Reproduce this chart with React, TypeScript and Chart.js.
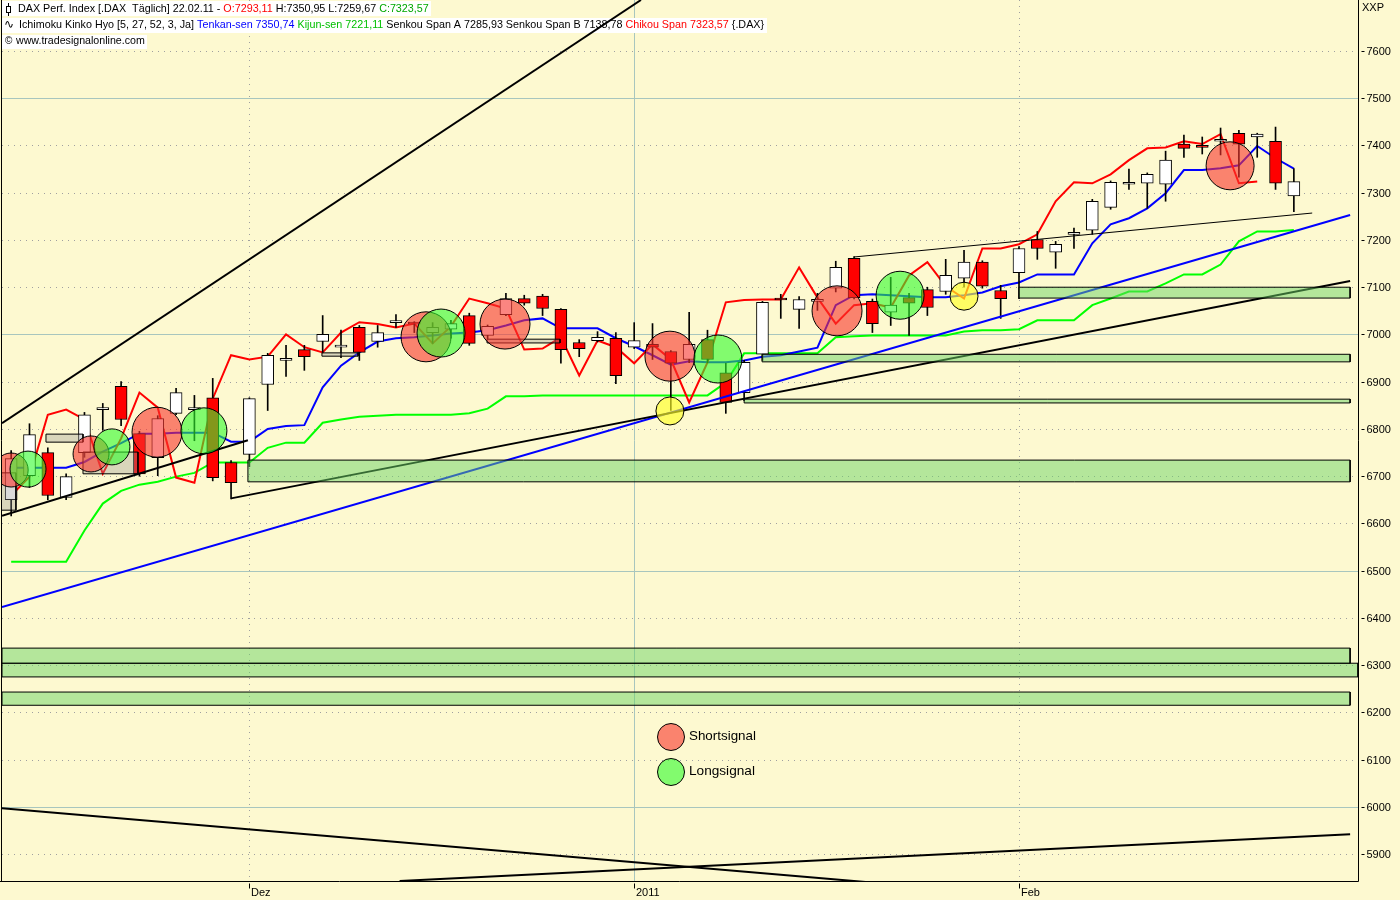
import React, { useEffect, useRef } from 'react';
import { Chart, registerables } from 'chart.js';

Chart.register(...registerables);

// ---------- data ----------
const opens = [6650, 6701, 6750, 6655, 6750, 6841, 6890, 6790, 6739, 6833, 6841, 6866, 6729, 6746, 6894, 6945, 6968, 6985, 6973, 7015, 6985, 7025, 7025, 7004, 7011, 7040, 6998, 7042, 7076, 7081, 7053, 6983, 6987, 6992, 6973, 6979, 6964, 6947, 6989, 6919, 6877, 6958, 7074, 7053, 7070, 7098, 7161, 7070, 7047, 7078, 7095, 7091, 7119, 7153, 7093, 7131, 7201, 7174, 7212, 7221, 7269, 7318, 7320, 7318, 7403, 7397, 7409, 7426, 7418, 7409, 7293.11];
const highs = [6754, 6811, 6760, 6705, 6835, 6854, 6900, 6795, 6828, 6886, 6871, 6907, 6733, 6866, 6960, 6977, 6977, 7040, 7009, 7019, 7019, 7042, 7027, 7025, 7030, 7045, 7020, 7087, 7083, 7085, 7055, 6989, 7006, 7004, 7025, 7023, 6966, 7047, 7009, 6939, 6945, 7070, 7085, 7080, 7087, 7155, 7165, 7075, 7121, 7087, 7100, 7159, 7178, 7156, 7104, 7186, 7218, 7197, 7225, 7286, 7325, 7350, 7342, 7388, 7422, 7418, 7437, 7432, 7426, 7439, 7350.95];
const lows = [6616, 6676, 6650, 6650, 6740, 6797, 6807, 6700, 6701, 6830, 6775, 6690, 6652, 6720, 6839, 6911, 6924, 6962, 6951, 6945, 6973, 7015, 7004, 6981, 6992, 6977, 6990, 7040, 7062, 7040, 6939, 6953, 6984, 6896, 6970, 6947, 6839, 6940, 6940, 6833, 6860, 6945, 7034, 7013, 7051, 7090, 7075, 7004, 7019, 6998, 7040, 7085, 7100, 7098, 7034, 7076, 7159, 7140, 7182, 7212, 7265, 7307, 7267, 7282, 7375, 7382, 7380, 7333, 7375, 7307, 7259.67];
const closes = [6737, 6788, 6659, 6699, 6830, 6841, 6820, 6705, 6822, 6877, 6845, 6697, 6686, 6864, 6956, 6947, 6953, 7000, 6973, 6962, 7004, 7026, 7022, 7015, 7023, 6981, 7017, 7076, 7066, 7055, 6968, 6970, 6994, 6913, 6987, 6973, 6939, 6979, 6947, 6856, 6941, 7068, 7073, 7074, 7074, 7142, 7078, 7023, 7062, 7066, 7057, 7125, 7153, 7102, 7076, 7182, 7182, 7191, 7212, 7282, 7322, 7320, 7339, 7369, 7394, 7396, 7409, 7403, 7424, 7320, 7323.57];

const tenkan = [6718, 6718, 6718, 6718, 6730, 6752, 6770, 6790, 6790, 6792, 6792, 6792, 6773, 6773, 6800, 6806, 6808, 6888, 6934, 6962, 6985, 6992, 6994, 6998, 7002, 7004, 7009, 7019, 7030, 7034, 7013, 7013, 7013, 6992, 6975, 6956, 6936, 6943, 6941, 6941, 6945, 6953, 6956, 6964, 6972, 7062, 7083, 7085, 7083, 7081, 7079, 7079, 7083, 7089, 7102, 7110, 7127, 7127, 7127, 7193, 7233, 7246, 7267, 7299, 7348, 7348, 7352, 7358, 7399, 7373, 7351];
const kijun = [6519, 6519, 6519, 6519, 6585, 6642, 6669, 6682, 6688, 6699, 6707, 6729, 6729, 6729, 6760, 6771, 6771, 6813, 6820, 6826, 6828, 6830, 6830, 6830, 6830, 6833, 6843, 6869, 6869, 6871, 6871, 6871, 6871, 6871, 6871, 6871, 6871, 6871, 6871, 6898, 6960, 6960, 6960, 6960, 6960, 6994, 6996, 6998, 6998, 6998, 6998, 6998, 7006, 7009, 7009, 7011, 7030, 7030, 7030, 7062, 7076, 7091, 7091, 7108, 7127, 7127, 7148, 7197, 7218, 7218, 7221];
const chikou = [6659, 6699, 6830, 6841, 6820, 6705, 6780, 6877, 6845, 6697, 6686, 6864, 6956, 6947, 6953, 7000, 6973, 6962, 7004, 7026, 7022, 7015, 7023, 6981, 7017, 7076, 7066, 7055, 6968, 6970, 6994, 6913, 6987, 6973, 6939, 6979, 6947, 6856, 6941, 7068, 7073, 7074, 7074, 7142, 7078, 7023, 7062, 7066, 7057, 7125, 7153, 7102, 7076, 7182, 7182, 7191, 7212, 7282, 7322, 7320, 7339, 7369, 7394, 7396, 7409, 7403, 7424, 7320, 7324];

const yTicks = [5900, 6000, 6100, 6200, 6300, 6400, 6500, 6600, 6700, 6800, 6900, 7000, 7100, 7200, 7300, 7400, 7500, 7600];
const solidGridValues = [6000, 6500, 7000, 7500];
const xTickIdx = [13, 34, 55];
const xTickLabels = ['Dez', '2011', 'Feb'];
const xTickSolid = [false, true, false];

// trend lines: [[x, y], [x, y]] (x = bar index)
const upperTrend = [[-0.5, 6812], [34.37, 7708]];
const lowerLeftTrend = [[-0.5, 6616], [12.92, 6776]];
const supportTrend = [[12.0, 6653], [73.07, 7113]];
const blueTrend = [[-0.5, 6423], [73.07, 7253]];
const thinTrend = [[46.0, 7164], [71.0, 7257]];
const bottomFallTrend = [[-0.5, 5997], [46.9, 5840]];
const bottomRiseTrend = [[21.2, 5843], [73.07, 5942]];

// zones: [xStart, xEnd, low, high]
const greenZones = [
  [55.0, 73.07, 7077, 7100],
  [40.98, 73.07, 6942, 6958],
  [40.0, 73.07, 6855, 6863],
  [12.92, 73.07, 6688, 6734],
  [-0.5, 73.07, 6304, 6336],
  [-0.5, 73.5, 6275, 6304],
  [-0.5, 73.07, 6215, 6243],
];
const grayBoxes = [
  [-0.6, 0.26, 6628, 6707],
  [1.9, 3.92, 6772, 6789],
  [3.92, 6.92, 6705, 6751],
  [16.96, 18.93, 6954, 6961],
  [25.97, 29.95, 6982, 6990],
];

// signals: [x, y]
const shortSignals = [[0, 6713], [4.36, 6747], [7.96, 6793], [22.64, 6995], [26.95, 7022], [35.95, 6954], [45.07, 7050], [66.52, 7357]];
const longSignals = [[0.92, 6715], [5.5, 6762], [10.52, 6796], [23.46, 7003], [38.57, 6948], [48.51, 7083]];
const neutralSignals = [[35.95, 6838], [52.0, 7081]];

// ---------- styles ----------
const BG = '#fdf9d0';
const GRID_SOLID = '#a8c6be';
const GRID_DOT = '#a0a0a0';
const RED_FILL = 'rgba(249,51,45,0.6)';
const GREEN_FILL = 'rgba(49,251,45,0.6)';
const YELLOW_FILL = 'rgba(255,255,40,0.65)';
const ZONE_FILL = 'rgba(108,212,102,0.5)';
const GRAY_FILL = 'rgba(150,150,150,0.35)';
const shortRadii = [17, 18, 25, 25, 25, 25, 25, 24];
const longRadii = [18, 18, 23, 24, 24, 24];
const neutralRadii = [14, 14];
const FONT = "'Liberation Sans', Arial, sans-serif";

const pts = (arr: number[][]) => arr.map(([x, y]) => ({ x, y }));
const rectPts = (r: number[]) => [
  { x: r[0], y: r[2] }, { x: r[0], y: r[3] }, { x: r[1], y: r[3] }, { x: r[1], y: r[2] }, { x: r[0], y: r[2] },
];

const header1 = [
  ['DAX Perf. Index [.DAX  Täglich] 22.02.11 - ', '#000000'],
  ['O:7293,11', '#ff0000'],
  [' H:7350,95 L:7259,67 ', '#000000'],
  ['C:7323,57', '#00a800'],
];
const header2 = [
  ['Ichimoku Kinko Hyo [5, 27, 52, 3, Ja] ', '#000000'],
  ['Tenkan-sen 7350,74', '#0000ff'],
  [' ', '#000000'],
  ['Kijun-sen 7221,11', '#00c000'],
  [' Senkou Span A 7285,93 Senkou Span B 7138,78 ', '#000000'],
  ['Chikou Span 7323,57', '#ff0000'],
  [' {.DAX}', '#000000'],
];
const header3 = [['www.tradesignalonline.com', '#000000']];

function drawSegs(ctx: any, segs: string[][], x: number, y: number, targetW: number) {
  ctx.font = `12px ${FONT}`;
  const w = segs.reduce((a, s) => a + ctx.measureText(s[0]).width, 0);
  const size = (12 * targetW) / w;
  ctx.font = `${size}px ${FONT}`;
  ctx.textBaseline = 'middle';
  ctx.textAlign = 'left';
  let cx = x;
  for (const [t, c] of segs) {
    ctx.fillStyle = c;
    ctx.fillText(t, cx, y);
    cx += ctx.measureText(t).width;
  }
}

function fitText(ctx: any, t: string, x: number, y: number, targetW: number) {
  ctx.font = `12px ${FONT}`;
  const size = (12 * targetW) / ctx.measureText(t).width;
  ctx.font = `${size}px ${FONT}`;
  ctx.textBaseline = 'middle';
  ctx.textAlign = 'left';
  ctx.fillStyle = '#000';
  ctx.fillText(t, x, y);
}

const chromePlugin = {
  id: 'chrome',
  beforeDraw(chart: any) {
    const { ctx, width, height } = chart;
    ctx.save();
    ctx.fillStyle = BG;
    ctx.fillRect(0, 0, width, height);
    ctx.restore();
  },
  beforeDatasetsDraw(chart: any) {
    const { ctx, chartArea: a, scales } = chart;
    const { x, y } = scales;
    ctx.save();
    ctx.lineWidth = 1;
    for (const v of yTicks) {
      const py = Math.round(y.getPixelForValue(v)) + 0.5;
      const solid = solidGridValues.includes(v);
      ctx.strokeStyle = solid ? GRID_SOLID : GRID_DOT;
      ctx.setLineDash(solid ? [] : [1, 5]);
      ctx.beginPath();
      ctx.moveTo(a.left, py);
      ctx.lineTo(a.right, py);
      ctx.stroke();
    }
    xTickIdx.forEach((v, i) => {
      const px = Math.round(x.getPixelForValue(v)) + 0.5;
      const solid = xTickSolid[i];
      ctx.strokeStyle = solid ? GRID_SOLID : GRID_DOT;
      ctx.setLineDash(solid ? [] : [1, 5]);
      ctx.beginPath();
      ctx.moveTo(px, a.top);
      ctx.lineTo(px, a.bottom);
      ctx.stroke();
    });
    // header backgrounds (under the drawings)
    ctx.fillStyle = '#ffffff';
    ctx.fillRect(2, 1, 429, 15);
    ctx.fillRect(2, 18, 765, 15);
    ctx.fillRect(2, 35, 145, 14);
    ctx.restore();
  },
  afterDraw(chart: any) {
    const { ctx, chartArea: a, scales } = chart;
    const { x, y } = scales;
    ctx.save();
    ctx.strokeStyle = '#000';
    ctx.lineWidth = 1;
    ctx.setLineDash([]);
    // frame: left, right axis, bottom axis
    const rx = Math.round(a.right) + 0.5;
    const by = Math.round(a.bottom) + 0.5;
    ctx.beginPath();
    ctx.moveTo(1.5, 0);
    ctx.lineTo(1.5, by);
    ctx.moveTo(rx, 0);
    ctx.lineTo(rx, by);
    ctx.moveTo(0, by);
    ctx.lineTo(rx, by);
    ctx.stroke();

    // y axis ticks + labels
    ctx.font = `11px ${FONT}`;
    ctx.fillStyle = '#000';
    ctx.textBaseline = 'middle';
    ctx.textAlign = 'left';
    for (const v of yTicks) {
      const py = Math.round(y.getPixelForValue(v)) + 0.5;
      ctx.beginPath();
      ctx.moveTo(rx + 3, py);
      ctx.lineTo(rx + 6, py);
      ctx.stroke();
      ctx.fillText(String(v), rx + 8, py);
    }
    // x axis ticks + labels
    ctx.textBaseline = 'top';
    xTickIdx.forEach((v, i) => {
      const px = Math.round(x.getPixelForValue(v)) + 0.5;
      ctx.beginPath();
      ctx.moveTo(px, by + 2);
      ctx.lineTo(px, by + 7);
      ctx.stroke();
      ctx.fillText(xTickLabels[i], px + 1.5, by + 6);
    });

    // candle icon
    ctx.strokeStyle = '#000';
    ctx.beginPath();
    ctx.moveTo(8.5, 3);
    ctx.lineTo(8.5, 16);
    ctx.stroke();
    ctx.fillStyle = '#fff';
    ctx.fillRect(6, 6, 5, 7);
    ctx.strokeRect(6.5, 6.5, 4, 6);

    drawSegs(ctx, header1, 18, 9, 411);
    ctx.font = `12px 'DejaVu Sans', sans-serif`;
    ctx.fillStyle = '#000';
    ctx.textBaseline = 'middle';
    ctx.fillText('∿', 4, 25);
    drawSegs(ctx, header2, 19, 25, 746);
    ctx.font = `10px ${FONT}`;
    ctx.fillStyle = '#000';
    ctx.fillText('©', 5, 41);
    drawSegs(ctx, header3, 16, 41, 129);

    // axis unit
    ctx.font = `11px ${FONT}`;
    ctx.fillStyle = '#000';
    ctx.textBaseline = 'middle';
    ctx.fillText('XXP', 1362, 8);

    // signal legend
    const leg = [
      [RED_FILL, 'Shortsignal', 737, 67],
      [GREEN_FILL, 'Longsignal', 772, 66],
    ];
    for (const [fill, label, cy, tw] of leg as any[]) {
      ctx.beginPath();
      ctx.arc(671, cy, 13.5, 0, Math.PI * 2);
      ctx.fillStyle = fill;
      ctx.fill();
      ctx.strokeStyle = '#000';
      ctx.stroke();
      fitText(ctx, label, 689, cy - 1, tw);
    }
    ctx.restore();
  },
};

export default function App() {
  const ref = useRef<HTMLCanvasElement>(null);

  useEffect(() => {
    document.body.style.margin = '0';
    Chart.defaults.font.family = FONT;
    Chart.defaults.font.size = 11;
    Chart.defaults.color = '#000';

    const idx = closes.map((_, i) => i);
    const bodies = idx.map((i) => ({ x: i, y: [opens[i], closes[i]] }));
    const bodyColors = idx.map((i) => (closes[i] >= opens[i] ? '#ffffff' : '#ff0000'));
    const wicks = idx.map((i) => ({ x: i, y: [lows[i], highs[i]] }));

    const lineDs = (data: any[], color: string, width: number, order: number) => ({
      type: 'line',
      data,
      borderColor: color,
      borderWidth: width,
      pointRadius: 0,
      pointHoverRadius: 0,
      tension: 0,
      fill: false,
      order,
      clip: 0,
    });
    const rectDs = (r: number[], fill: string, order: number) => ({
      type: 'line',
      data: rectPts(r),
      borderColor: '#000',
      borderWidth: 1,
      backgroundColor: fill,
      fill: 'shape',
      pointRadius: 0,
      pointHoverRadius: 0,
      tension: 0,
      order,
      clip: 0,
    });
    const signalDs = (arr: number[][], fill: string, radii: number[], order: number) => ({
      type: 'scatter',
      data: pts(arr),
      pointRadius: radii,
      pointHoverRadius: radii,
      pointBackgroundColor: fill,
      pointBorderColor: '#000',
      pointBorderWidth: 1,
      showLine: false,
      order,
      clip: 0,
    });

    const datasets: any[] = [
      signalDs(longSignals, GREEN_FILL, longRadii, 0),
      signalDs(shortSignals, RED_FILL, shortRadii, 1),
      signalDs(neutralSignals, YELLOW_FILL, neutralRadii, 2),
      ...greenZones.map((r) => rectDs(r, ZONE_FILL, 3)),
      ...grayBoxes.map((r) => rectDs(r, GRAY_FILL, 3)),
      lineDs(pts(upperTrend), '#000', 2, 4),
      lineDs(pts(lowerLeftTrend), '#000', 2, 4),
      lineDs(pts(supportTrend), '#000', 2, 4),
      lineDs(pts(blueTrend), '#0000ff', 2, 4),
      lineDs(pts(thinTrend), '#000', 1, 4),
      lineDs(pts(bottomFallTrend), '#000', 2, 4),
      lineDs(pts(bottomRiseTrend), '#000', 2, 4),
      {
        type: 'bar',
        data: bodies,
        backgroundColor: bodyColors,
        borderColor: '#000',
        borderWidth: 1,
        borderSkipped: false,
        barThickness: 12,
        grouped: false,
        minBarLength: 2,
        order: 5,
      },
      {
        type: 'bar',
        data: wicks,
        backgroundColor: '#000',
        borderWidth: 0,
        barThickness: 1,
        grouped: false,
        order: 6,
      },
      lineDs(chikou.map((v, i) => ({ x: i, y: v })), '#ff0000', 2, 7),
      lineDs(tenkan.map((v, i) => ({ x: i, y: v })), '#0000ff', 2, 8),
      lineDs(kijun.map((v, i) => ({ x: i, y: v })), '#00ff00', 2, 9),
    ];

    const chart = new Chart(ref.current as HTMLCanvasElement, {
      type: 'scatter',
      data: { datasets },
      options: {
        responsive: false,
        animation: false,
        events: [],
        layout: { autoPadding: false, padding: { left: 2, right: 0, top: 0, bottom: 0 } },
        plugins: { legend: { display: false }, tooltip: { enabled: false }, title: { display: false } },
        scales: {
          x: {
            type: 'linear',
            min: -0.5,
            max: 73.5,
            offset: false,
            afterBuildTicks: (s: any) => {
              s.ticks = xTickIdx.map((v) => ({ value: v }));
            },
            afterFit: (s: any) => {
              s.height = 19;
            },
            ticks: { display: false },
            grid: { display: false, drawTicks: false, offset: false },
            border: { display: false },
          },
          y: {
            type: 'linear',
            position: 'right',
            min: 5843,
            max: 7708,
            afterBuildTicks: (s: any) => {
              s.ticks = yTicks.map((v) => ({ value: v }));
            },
            afterFit: (s: any) => {
              s.width = 42;
            },
            ticks: { display: false },
            grid: { display: false, drawTicks: false },
            border: { display: false },
          },
        },
      } as any,
      plugins: [chromePlugin],
    } as any);

    return () => chart.destroy();
  }, []);

  return (
    <div style={{ position: 'absolute', left: 0, top: 0, width: 1400, height: 900 }}>
      <canvas ref={ref} width={1400} height={900} style={{ display: 'block', width: 1400, height: 900 }} />
    </div>
  );
}
